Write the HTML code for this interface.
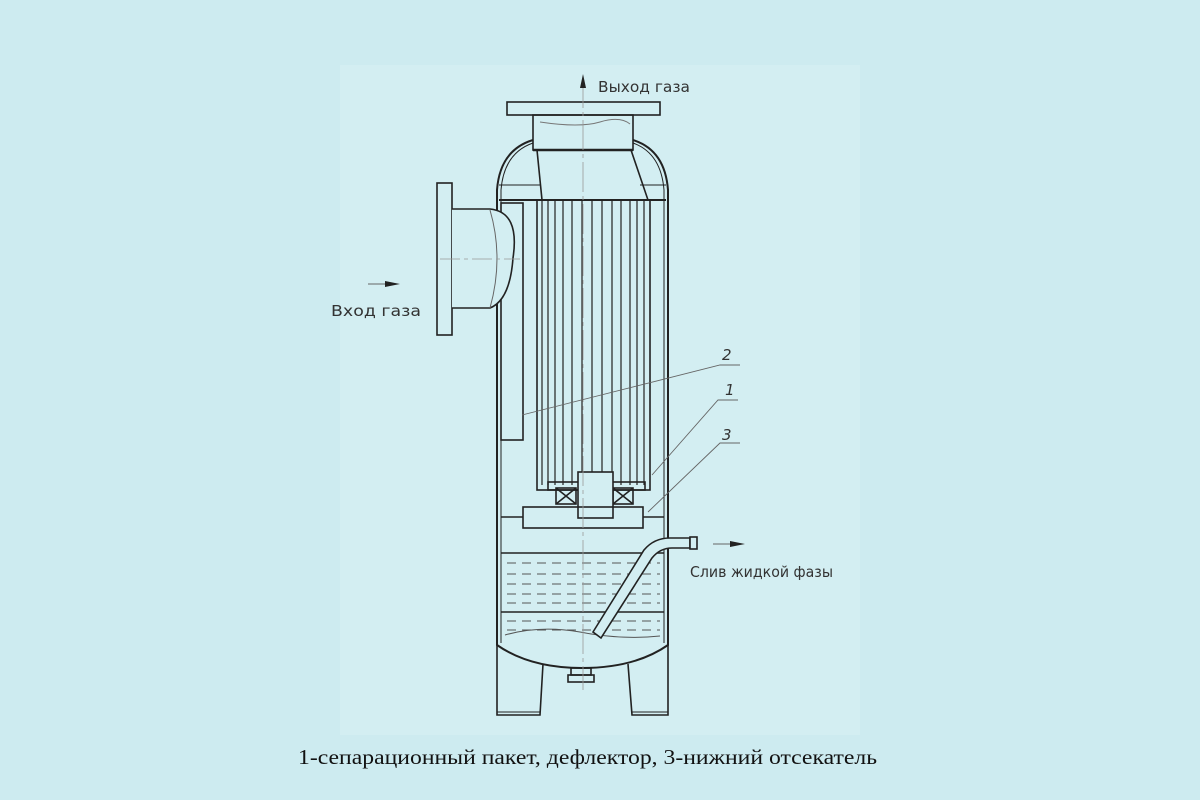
<!DOCTYPE html>
<html><head><meta charset="utf-8"><style>
html,body{margin:0;padding:0;width:1200px;height:800px;background:#cdebf0;overflow:hidden}
svg{position:absolute;left:0;top:0}
</style></head><body>
<svg width="1200" height="800" viewBox="0 0 1200 800" xmlns="http://www.w3.org/2000/svg">
<rect x="0" y="0" width="1200" height="800" fill="#cdebf0"/>
<rect x="340" y="65" width="520" height="670" fill="#d3eef2"/>
<g fill="none" stroke="#222" stroke-width="1.6">
<rect x="507" y="102" width="153" height="13" fill="#d3eef2"/>
<rect x="533" y="115" width="100" height="35"/>
<line x1="533" y1="150" x2="633" y2="150" stroke-width="2.5"/>
<path d="M540,122 Q580,128 600,122 T630,124" stroke="#777" stroke-width="1"/>
<path d="M533,140 Q500,150 497,190 L497,645 Q530,668 582,668 Q635,668 668,645 L668,190 Q665,150 633,140" stroke-width="2"/>
<path d="M533,143 Q504,153 501,190 L501,643 M664,643 L664,190 Q661,153 633,143" stroke-width="1"/>
<path d="M537,150 L542,200 M631,150 L648,200"/>
<line x1="499" y1="185" x2="540" y2="185" stroke-width="1"/>
<line x1="640" y1="185" x2="666" y2="185" stroke-width="1"/>
<line x1="499" y1="200" x2="666" y2="200" stroke-width="2"/>
<rect x="437" y="183" width="15" height="152" fill="#d3eef2"/>
<rect x="501" y="203" width="22" height="237"/>
<path d="M452,209 L490,209 Q520,212 513,258 Q510,300 490,308 L452,308" fill="#d3eef2"/>
<path d="M490,210 Q504,258 490,308" stroke="#666" stroke-width="1"/>
<rect x="537" y="200" width="113" height="290"/>
<g stroke-width="1.2">
<line x1="542" y1="200" x2="542" y2="485"/><line x1="548" y1="200" x2="548" y2="485"/>
<line x1="555" y1="200" x2="555" y2="485"/><line x1="563" y1="200" x2="563" y2="485"/>
<line x1="572" y1="200" x2="572" y2="485"/><line x1="582" y1="200" x2="582" y2="485"/>
<line x1="592" y1="200" x2="592" y2="485"/><line x1="602" y1="200" x2="602" y2="485"/>
<line x1="612" y1="200" x2="612" y2="485"/><line x1="621" y1="200" x2="621" y2="485"/>
<line x1="630" y1="200" x2="630" y2="485"/><line x1="637" y1="200" x2="637" y2="485"/>
<line x1="644" y1="200" x2="644" y2="485"/>
</g>
<rect x="548" y="482" width="97" height="8"/>
<rect x="556" y="488" width="20" height="16"/>
<path d="M556,488 L576,504 M576,488 L556,504"/>
<rect x="613" y="488" width="20" height="16"/>
<path d="M613,488 L633,504 M633,488 L613,504"/>
<rect x="578" y="472" width="35" height="46" fill="#d3eef2"/>
<rect x="523" y="507" width="120" height="21"/>
<line x1="501" y1="517" x2="523" y2="517"/>
<line x1="643" y1="517" x2="664" y2="517"/>
<line x1="501" y1="553" x2="664" y2="553" stroke-width="1.5"/>
<line x1="501" y1="612" x2="664" y2="612" stroke-width="1.5"/>
<g stroke="#555" stroke-width="1" stroke-dasharray="9,6">
<line x1="507" y1="563" x2="660" y2="563"/><line x1="507" y1="574" x2="660" y2="574"/>
<line x1="507" y1="584" x2="660" y2="584"/><line x1="507" y1="594" x2="660" y2="594"/>
<line x1="507" y1="603" x2="660" y2="603"/><line x1="507" y1="621" x2="660" y2="621"/>
<line x1="507" y1="630" x2="660" y2="630"/>
</g>
<path d="M505,635 Q540,625 580,632 Q620,640 660,636" stroke="#555" stroke-width="1"/>
<path d="M593,632 L644,550 Q654,538 670,538 L690,538 L690,548 L672,548 Q660,548 652,558 L601,638 Z" fill="#d3eef2"/>
<rect x="690" y="537" width="7" height="12" fill="#d3eef2"/>
<path d="M497,640 L497,715 L540,715 L543,664"/>
<path d="M668,640 L668,715 L632,715 L628,664"/>
<line x1="497" y1="712" x2="540" y2="712" stroke-width="1"/>
<line x1="632" y1="712" x2="668" y2="712" stroke-width="1"/>
<rect x="571" y="668" width="20" height="7"/>
<rect x="568" y="675" width="26" height="7"/>
</g>
<g stroke="#999" stroke-width="0.8">
<line x1="583" y1="78" x2="583" y2="690" stroke-dasharray="30,4,4,4"/>
<line x1="440" y1="259" x2="520" y2="259" stroke-dasharray="20,4,4,4"/>
</g>
<g stroke="#666" stroke-width="0.9" fill="none">
<path d="M740,365 L720,365 L522,415"/>
<path d="M738,400 L718,400 L652,475"/>
<path d="M740,443 L720,443 L648,512"/>
<line x1="713" y1="544" x2="730" y2="544"/>
<line x1="368" y1="284" x2="385" y2="284"/>
</g>
<g fill="#222">
<polygon points="730,541 745,544 730,547"/>
<polygon points="385,281 400,284 385,287"/>
<polygon points="580,88 583,74 586,88"/>
</g>
<g font-family="DejaVu Sans, Liberation Sans, sans-serif" font-size="15" fill="#333">
<text x="598" y="92" textLength="92" lengthAdjust="spacingAndGlyphs">Выход газа</text>
<text x="331" y="316" textLength="90" lengthAdjust="spacingAndGlyphs">Вход газа</text>
<text x="690" y="577" textLength="143" lengthAdjust="spacingAndGlyphs">Слив жидкой фазы</text>
<text x="722" y="360" font-style="italic">2</text>
<text x="725" y="395" font-style="italic">1</text>
<text x="722" y="440" font-style="italic">3</text>
</g>
<text x="298" y="764" textLength="579" lengthAdjust="spacingAndGlyphs" font-family="Liberation Serif, serif" font-size="21" fill="#111">1-сепарационный пакет, дефлектор, 3-нижний отсекатель</text>
</svg>
</body></html>
